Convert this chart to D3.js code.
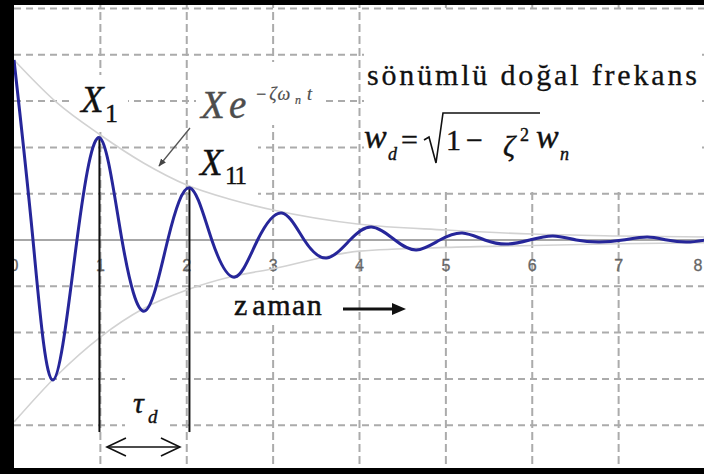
<!DOCTYPE html>
<html>
<head>
<meta charset="utf-8">
<script src="https://cdn.jsdelivr.net/npm/d3@7/dist/d3.min.js"></script>
<style>
  html, body { margin: 0; padding: 0; background: #fff; }
  svg { display: block; }
  .rm { font-family: "Liberation Serif", "DejaVu Serif", "Times New Roman", Times, serif; }
  .ax { font-family: "Liberation Sans", Arial, sans-serif; }
</style>
</head>
<body>
<svg id="chart" width="704" height="474"></svg>
<script>
// Damped free vibration: displacement samples (peaks, troughs and zero crossings)
const time = [0, 0.22, 0.451, 0.729, 0.995, 1.25, 1.516, 1.78, 2.037, 2.29, 2.558, 2.82,
              3.10, 3.36, 3.62, 3.89, 4.14, 4.41, 4.66, 4.93, 5.19, 5.45, 5.71, 5.97,
              6.24, 6.51, 6.78, 7.05, 7.33, 7.56, 7.79, 8.0];
const displacement = [0.972, 0, -0.756, 0, 0.551, 0, -0.383, 0, 0.281, 0, -0.200, 0,
                      0.146, 0, -0.097, 0, 0.070, 0, -0.054, 0, 0.038, 0, -0.022, 0,
                      0.022, 0, -0.011, 0, 0.016, 0, -0.011, 0];

// Exponential decay envelope  X e^(-zeta wn t)
const envTime  = [0, 0.5, 1, 1.5, 2, 2.5, 3, 4, 5, 6, 7, 8];
const envUpper = [0.972, 0.74, 0.567, 0.416, 0.297, 0.22, 0.162, 0.085, 0.054, 0.032, 0.022, 0.016];
const envLower = [-0.983, -0.73, -0.524, -0.37, -0.27, -0.2, -0.155, -0.06, -0.04, -0.03, -0.02, -0.015];

// Axis ticks and grid levels
const tickLabels = ["0", "1", "2", "3", "4", "5", "6", "7", "8"];
const gridLevels = [-1.25, -1, -0.75, -0.5, -0.25, 0.25, 0.5, 0.75, 1, 1.25];

// Marked peaks X1 and X11 (indices into the samples above)
const markedPeaks = [4, 8];

const svg = d3.select("#chart");
const W = 704, H = 474;

const x = d3.scaleLinear().domain([0, 8]).range([14, 705]);
const y = d3.scaleLinear().domain([-1.25, 1.25]).range([471.5, 8.5]);

svg.append("rect").attr("width", W).attr("height", H).attr("fill", "#fff");

// dashed grid
const grid = svg.append("g").attr("stroke", "#ababab").attr("stroke-width", 2).attr("fill", "none");
grid.selectAll("line.h").data(gridLevels).join("line")
  .attr("x1", 14).attr("x2", W)
  .attr("y1", d => y(d)).attr("y2", d => y(d))
  .attr("stroke-dasharray", "7,5");
grid.selectAll("line.v").data(tickLabels.slice(1)).join("line")
  .attr("x1", (d, i) => x(i + 1)).attr("x2", (d, i) => x(i + 1))
  .attr("y1", 0).attr("y2", H)
  .attr("stroke-dasharray", "8,4");

// white backgrounds behind the annotations
const boxes = [
  [72, 75, 56, 53],     // X1
  [196, 62, 126, 63],   // X e^...
  [192, 140, 66, 60],   // X11
  [364, 11, 338, 179],  // frequency text block
  [230, 290, 105, 35],  // zaman
  [125, 372, 45, 58]    // tau_d
];
svg.append("g").selectAll("rect").data(boxes).join("rect")
  .attr("x", d => d[0]).attr("y", d => d[1]).attr("width", d => d[2]).attr("height", d => d[3])
  .attr("fill", "#fff");

// time axis
svg.append("line").attr("x1", 14).attr("x2", W).attr("y1", y(0)).attr("y2", y(0))
  .attr("stroke", "#8a8a8a").attr("stroke-width", 1.5);

// tick labels
svg.append("g").attr("class", "ax").selectAll("text").data(tickLabels).join("text")
  .attr("x", (d, i) => Math.min(x(i), 698)).attr("y", 271)
  .attr("text-anchor", "middle")
  .style("font-size", "16px").attr("fill", "#666")
  .attr("stroke", "#666").attr("stroke-width", 0.3)
  .text(d => d);

// envelopes
const envLine = d3.line().x(d => x(d[0])).y(d => y(d[1])).curve(d3.curveMonotoneX);
[envUpper, envLower].forEach(env => {
  svg.append("path").datum(envTime.map((t, i) => [t, env[i]]))
    .attr("d", envLine).attr("fill", "none")
    .attr("stroke", "#d2d2d2").attr("stroke-width", 1.6);
});

// vertical markers from X1 and X11 down to the period arrow
const markerBottom = -1.037;
svg.append("g").selectAll("line").data(markedPeaks).join("line")
  .attr("x1", i => x(time[i]) - 0.5).attr("x2", i => x(time[i]) - 0.5)
  .attr("y1", i => y(displacement[i])).attr("y2", y(markerBottom))
  .attr("stroke", "#111").attr("stroke-width", 2);

// response curve
const resp = d3.line().x(d => x(d[0])).y(d => y(d[1])).curve(d3.curveNatural);
svg.append("path").datum(time.map((t, i) => [t, displacement[i]]))
  .attr("d", resp).attr("fill", "none")
  .attr("stroke", "#26269a").attr("stroke-width", 3).attr("stroke-linejoin", "round");

// pointer from the envelope label to the envelope
svg.append("defs").append("marker")
  .attr("id", "tip").attr("viewBox", "0 0 10 10").attr("refX", 9).attr("refY", 5)
  .attr("markerWidth", 6).attr("markerHeight", 6).attr("orient", "auto")
  .append("path").attr("d", "M0,1 L10,5 L0,9 z").attr("fill", "#444");
svg.append("line").attr("x1", 190).attr("y1", 128).attr("x2", 159).attr("y2", 166)
  .attr("stroke", "#555").attr("stroke-width", 1.3).attr("marker-end", "url(#tip)");

// period double arrow
const ay = 447, ax0 = x(time[markedPeaks[0]]) + 7, ax1 = x(time[markedPeaks[1]]) - 10;
const arr = svg.append("g").attr("stroke", "#111").attr("fill", "none").attr("stroke-width", 1.6);
arr.append("line").attr("x1", ax0).attr("x2", ax1).attr("y1", ay).attr("y2", ay);
arr.append("path").attr("d", `M${ax0 + 19},${ay - 9} L${ax0},${ay} L${ax0 + 19},${ay + 9}`);
arr.append("path").attr("d", `M${ax1 - 19},${ay - 9} L${ax1},${ay} L${ax1 - 19},${ay + 9}`);

// text annotations
function label(xp, yp, size, txt, opts = {}) {
  const fill = opts.fill || "#111";
  return svg.append("text").attr("class", "rm").attr("x", xp).attr("y", yp)
    .style("font-size", size + "px")
    .style("font-style", opts.italic ? "italic" : "normal")
    .attr("fill", fill).attr("stroke", fill).attr("stroke-width", opts.sw == null ? 0.4 : opts.sw)
    .text(txt);
}

// X1
label(81, 112, 37, "X", { italic: true });
label(105, 122, 26, "1");
// X11
label(200, 175, 37, "X", { italic: true });
label(225, 184, 25, "11").attr("letter-spacing", -2);

// X e^{-zeta omega_n t}
const gray = "#4d4d4d";
label(201, 118, 39, "X", { italic: true, fill: gray });
label(229, 118, 39, "e", { italic: true, fill: gray });
label(255, 100, 18, "−ζω", { italic: true, fill: gray, sw: 0.2 }).attr("letter-spacing", 2);
label(295, 104, 12, "n", { italic: true, fill: gray, sw: 0.2 });
label(307, 100, 18, "t", { italic: true, fill: gray, sw: 0.2 });

// damped natural frequency
label(367, 85, 30, "sönümlü doğal frekans", { sw: 0.3 })
  .attr("textLength", 330).attr("lengthAdjust", "spacing");

label(364, 148, 34, "w", { italic: true });
label(388, 160, 18, "d", { italic: true });
label(401, 150, 30, "=");
svg.append("path").attr("d", "M424,140 L429,137 L436,163 L443,113 L540,113")
  .attr("fill", "none").attr("stroke", "#111").attr("stroke-width", 1.6);
label(446, 150, 30, "1");
label(466, 150, 30, "−");
label(503, 156, 30, "ζ", { italic: true });
label(520, 141, 18, "2");
label(536, 148, 34, "w", { italic: true });
label(560, 160, 18, "n", { italic: true });

// time label and arrow
const z = label(234, 315, 30, "", { sw: 0.5 });
z.append("tspan").text("z");
z.append("tspan").attr("dx", 5).attr("letter-spacing", 1.5).text("aman");
svg.append("line").attr("x1", 343).attr("x2", 394).attr("y1", 309).attr("y2", 309)
  .attr("stroke", "#111").attr("stroke-width", 3);
svg.append("path").attr("d", "M392,303 L406,309 L392,315 z").attr("fill", "#111");

// tau_d
label(133, 413, 30, "τ", { italic: true });
label(148, 423, 19, "d", { italic: true });

// frame
svg.append("rect").attr("x", 0).attr("y", 0).attr("width", 14).attr("height", H).attr("fill", "#000");
svg.append("rect").attr("x", 0).attr("y", 0).attr("width", W).attr("height", 5).attr("fill", "#000");
svg.append("rect").attr("x", 0).attr("y", 468).attr("width", W).attr("height", 6).attr("fill", "#000");
</script>
</body>
</html>
